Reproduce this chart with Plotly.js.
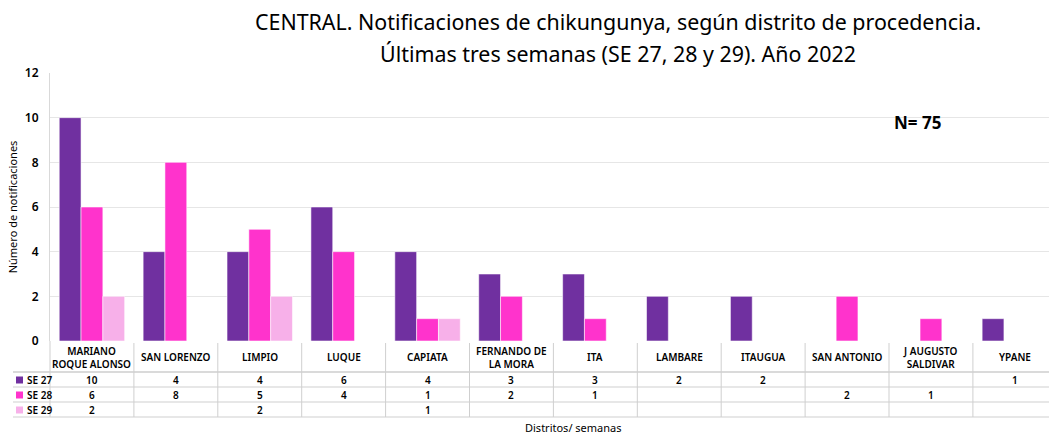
<!DOCTYPE html>
<html>
<head>
<meta charset="utf-8">
<script src="https://cdn.plot.ly/plotly-3.0.1.min.js"></script>
<style>html,body{margin:0;padding:0;background:#fff;}#chart{width:1049px;height:434px;}</style>
</head>
<body>
<div id="chart"></div>
<script>
// ---- data ----
const categories = ['MARIANO ROQUE ALONSO','SAN LORENZO','LIMPIO','LUQUE','CAPIATA','FERNANDO DE LA MORA','ITA','LAMBARE','ITAUGUA','SAN ANTONIO','J AUGUSTO SALDIVAR','YPANE'];
const categoryLabels = ['MARIANO<br>ROQUE ALONSO','SAN LORENZO','LIMPIO','LUQUE','CAPIATA','FERNANDO DE<br>LA MORA','ITA','LAMBARE','ITAUGUA','SAN ANTONIO','J AUGUSTO<br>SALDIVAR','YPANE'];
const seriesNames = ['SE 27','SE 28','SE 29'];
const se27 = [10,4,4,6,4,3,3,2,2,null,null,1];
const se28 = [6,8,5,4,1,2,1,null,null,2,1,null];
const se29 = [2,null,2,null,1,null,null,null,null,null,null,null];
const seriesColors = ['#7030A0','#FF33CC','#F7B0E9'];
const titleLines = ['CENTRAL. Notificaciones de chikungunya, según distrito de procedencia.','Últimas tres semanas (SE 27, 28 y 29). Año 2022'];
const yTitle = 'Número de notificaciones';
const xTitle = 'Distritos/ semanas';
const nLabel = 'N= 75';

// ---- layout geometry (pixels) ----
const W = 1049, H = 434;
const L = 50, R = 0, T = 73, B = 93;
const plotW = W - L - R, plotH = H - T - B;
const catW = 83.9;
const px = x => (x - L) / plotW;
const py = y => (H - B - y) / plotH;

const FONT = 'Noto Sans, Open Sans, sans-serif';
const allSeries = [se27, se28, se29];

const traces = allSeries.map((vals, i) => ({
  type: 'bar',
  x: categories,
  y: vals,
  name: seriesNames[i],
  marker: {color: seriesColors[i], line: {color: 'rgba(255,255,255,0.55)', width: 1}},
  hoverinfo: 'x+y+name'
}));

const annotations = [];
const shapes = [];
const gridCol = '#CFCFCF';

// titles
annotations.push({xref:'paper', yref:'paper', x: px(618), y: py(22), xanchor:'center', yanchor:'middle', showarrow:false,
  text: titleLines[0], font:{family:FONT, size:21.4, color:'#000'}});
annotations.push({xref:'paper', yref:'paper', x: px(618), y: py(53), xanchor:'center', yanchor:'middle', showarrow:false,
  text: titleLines[1], font:{family:FONT, size:21.4, color:'#000'}});
// N label
annotations.push({xref:'paper', yref:'paper', x: px(917), y: py(122), xanchor:'center', yanchor:'middle', showarrow:false,
  text: '<b>' + nLabel + '</b>', font:{family:FONT, size:17, color:'#000'}});
// x title
annotations.push({xref:'paper', yref:'paper', x: px(573), y: py(427), xanchor:'center', yanchor:'middle', showarrow:false,
  text: xTitle, font:{family:FONT, size:11, color:'#000'}});

// category header labels
categories.forEach((c, i) => {
  annotations.push({xref:'x', yref:'paper', x: c, y: py(357), xanchor:'center', yanchor:'middle', showarrow:false,
    text: categoryLabels[i], font:{family:FONT, size:10, color:'#000', weight:600}});
});

// table rows
const rowY = [380, 395, 410];
allSeries.forEach((vals, s) => {
  // legend key
  shapes.push({type:'rect', xref:'paper', yref:'paper', x0: px(16), x1: px(23), y0: py(rowY[s]+3.5), y1: py(rowY[s]-3.5),
    fillcolor: seriesColors[s], line:{width:0}});
  annotations.push({xref:'paper', yref:'paper', x: px(25), y: py(rowY[s]), xanchor:'left', yanchor:'middle', showarrow:false,
    text: seriesNames[s], font:{family:FONT, size:10, color:'#000', weight:600}});
  vals.forEach((v, i) => {
    if (v === null) return;
    annotations.push({xref:'x', yref:'paper', x: categories[i], y: py(rowY[s]), xanchor:'center', yanchor:'middle', showarrow:false,
      text: String(v), font:{family:FONT, size:10, color:'#000', weight:600}});
  });
});

// table horizontal lines
[372, 387, 402, 417].forEach((y, k) => {
  shapes.push({type:'line', xref:'paper', yref:'paper', x0: px(13), x1: px(W), y0: py(y), y1: py(y),
    line:{color: k === 0 ? '#B5B5B5' : gridCol, width:1}});
});
// vertical lines (category boundaries)
shapes.push({type:'line', xref:'paper', yref:'paper', x0: 0, x1: 0, y0: py(341), y1: py(417), line:{color:gridCol, width:1}});
for (let i = 1; i < categories.length; i++) {
  shapes.push({type:'line', xref:'x', yref:'paper', x0: i - 0.5, x1: i - 0.5, y0: py(343), y1: py(417), line:{color:gridCol, width:1}});
}

const layout = {
  width: W, height: H,
  margin: {l: L, r: R, t: T, b: B, pad: 0},
  paper_bgcolor: '#fff', plot_bgcolor: '#fff',
  showlegend: false,
  barmode: 'group',
  bargap: 0.22,
  bargroupgap: 0,
  font: {family: FONT, color: '#000'},
  xaxis: {
    type: 'category',
    range: [-0.5, -0.5 + plotW / catW],
    showticklabels: false, ticks: '', showgrid: false, zeroline: false, showline: false
  },
  yaxis: {
    range: [0, 12], dtick: 2, tick0: 0,
    showgrid: true, gridcolor: '#E6E6E6', gridwidth: 1,
    zeroline: false, showline: true, linecolor: '#D9D9D9', linewidth: 1,
    ticks: '', ticklabelstandoff: 8,
    tickfont: {family: FONT, size: 12, color: '#000', weight: 600},
    title: {text: yTitle, font: {family: FONT, size: 11, color: '#000'}, standoff: 5}
  },
  annotations: annotations,
  shapes: shapes
};

Plotly.newPlot('chart', traces, layout, {displayModeBar: false, responsive: false});
</script>
</body>
</html>
